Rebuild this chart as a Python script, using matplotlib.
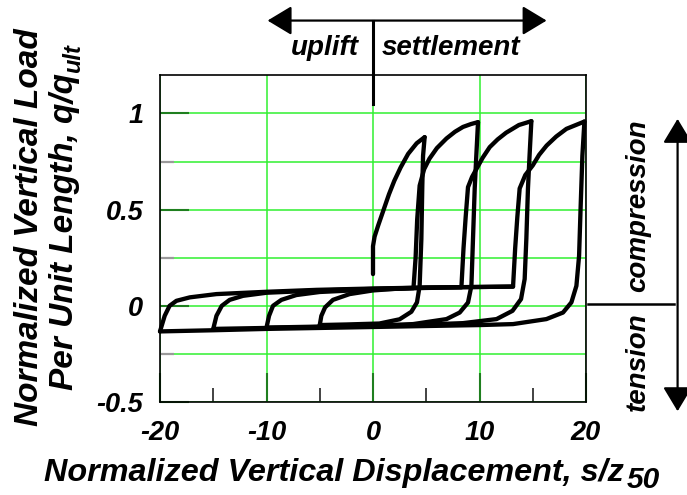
import matplotlib
matplotlib.use("Agg")
import matplotlib.pyplot as plt
from matplotlib.ticker import MultipleLocator, FuncFormatter

plt.rcParams['font.family'] = ['Liberation Sans', 'DejaVu Sans']
plt.rcParams['font.weight'] = 'bold'
plt.rcParams['font.style'] = 'italic'

# ---- load-displacement path (s/z50, q/qult) ----
initial_x = [0, 0, 0.15, 0.5, 1.0, 1.5, 2.0, 2.6, 3.3, 4.1, 4.85]
initial_y = [0.165, 0.31, 0.36, 0.42, 0.50, 0.58, 0.65, 0.72, 0.79, 0.845, 0.877]

unload1_x = [4.85, 4.7, 4.63, 4.54, 4.38, 4.13, 3.6, 2.5, 0.6, -2.5, -5.0]
unload1_y = [0.877, 0.78, 0.625, 0.347, 0.104, 0.018, -0.031, -0.07, -0.092, -0.097, -0.10]

reload1_x = [-5.0, -4.85, -4.5, -3.76, -2.2, 0.0, 2.0, 3.8, 4.0, 4.15, 4.38, 4.8, 5.3, 6.0, 6.9, 7.7, 8.45, 9.2, 9.86]
reload1_y = [-0.10, -0.052, -0.008, 0.031, 0.061, 0.08, 0.088, 0.092, 0.25, 0.45, 0.625, 0.71, 0.765, 0.82, 0.87, 0.905, 0.93, 0.945, 0.955]

unload2_x = [9.86, 9.7, 9.55, 9.39, 9.24, 8.92, 8.14, 6.9, 3.76, 0, -5, -10]
unload2_y = [0.955, 0.78, 0.61, 0.35, 0.104, 0.017, -0.035, -0.069, -0.095, -0.103, -0.108, -0.113]

reload2_x = [-10, -9.76, -9.39, -8.6, -7.2, -5, 0, 5, 8.3, 8.5, 8.7, 8.92, 9.3, 9.7, 10.3, 10.96, 11.7, 12.5, 13.7, 14.87]
reload2_y = [-0.113, -0.052, 0.0, 0.031, 0.056, 0.072, 0.085, 0.093, 0.096, 0.3, 0.46, 0.617, 0.67, 0.71, 0.77, 0.825, 0.865, 0.9, 0.94, 0.96]

unload3_x = [14.87, 14.7, 14.55, 14.4, 14.24, 13.9, 13.1, 11.6, 8.45, 5, 0, -5, -10, -15]
unload3_y = [0.96, 0.78, 0.61, 0.35, 0.139, 0.035, -0.026, -0.069, -0.09, -0.097, -0.105, -0.11, -0.115, -0.12]

reload3_x = [-15, -14.7, -14.2, -13.46, -12.2, -10, -5, 0, 5, 10, 13.15, 13.35, 13.55, 13.77, 14.3, 15.0, 15.6, 16.3, 17.2, 18.16, 19.85]
reload3_y = [-0.12, -0.052, 0.0, 0.031, 0.052, 0.068, 0.08, 0.088, 0.095, 0.098, 0.10, 0.3, 0.46, 0.61, 0.68, 0.73, 0.785, 0.833, 0.88, 0.92, 0.958]

unload4_x = [19.85, 19.66, 19.5, 19.35, 19.1, 18.63, 17.84, 16.28, 13.15, 10, 5, 0, -5, -10, -15, -20]
unload4_y = [0.958, 0.78, 0.52, 0.26, 0.104, 0.018, -0.035, -0.069, -0.095, -0.1, -0.105, -0.11, -0.115, -0.12, -0.127, -0.133]

reload4_x = [-20, -19.56, -19.1, -18.46, -17.2, -14.7, -10, -5.3, 0, 5, 10, 13.15]
reload4_y = [-0.133, -0.052, 0.0, 0.026, 0.044, 0.061, 0.073, 0.083, 0.09, 0.095, 0.098, 0.10]

segments = [
    (initial_x, initial_y),
    (unload1_x, unload1_y), (reload1_x, reload1_y),
    (unload2_x, unload2_y), (reload2_x, reload2_y),
    (unload3_x, unload3_y), (reload3_x, reload3_y),
    (unload4_x, unload4_y), (reload4_x, reload4_y),
]

x_ticks = [-20, -10, 0, 10, 20]
y_ticks = [-0.5, 0, 0.5, 1]

fig = plt.figure(figsize=(6.87, 4.95), dpi=100)
ax = fig.add_axes([160 / 687, 1 - 402 / 495, 426 / 687, 327 / 495])

for sx, sy in segments:
    ax.plot(sx, sy, color='black', lw=3.1, solid_joinstyle='round',
            solid_capstyle='round', zorder=4, clip_on=False)

ax.set_xlim(-20, 20)
ax.set_ylim(-0.5, 1.2)
ax.xaxis.set_major_locator(MultipleLocator(10))
ax.xaxis.set_minor_locator(MultipleLocator(5))
ax.yaxis.set_major_locator(MultipleLocator(0.5))
ax.yaxis.set_minor_locator(MultipleLocator(0.25))
ax.set_xticks(x_ticks)
ax.set_yticks(y_ticks)
fmt = FuncFormatter(lambda v, p: f"{v:g}")
ax.xaxis.set_major_formatter(fmt)
ax.yaxis.set_major_formatter(fmt)

grid_green = '#30f030'
ax.xaxis.grid(True, which='major', color=grid_green, lw=1.1, zorder=1)
ax.yaxis.grid(True, which='both', color=grid_green, lw=1.1, zorder=1)
ax.set_axisbelow(True)

ax.tick_params(axis='both', which='major', direction='in', length=21, width=1.5,
               color='#1f7f1f', labelsize=19.5)
ax.tick_params(axis='x', which='major', pad=13)
ax.tick_params(axis='y', which='major', pad=12)
ax.tick_params(axis='x', which='minor', direction='in', length=10, width=1.2, color='#222222')
ax.tick_params(axis='y', which='minor', direction='in', length=10, width=1.6, color='#9a9a9a')
for s in ax.spines.values():
    s.set_color('black')
    s.set_linewidth(1.2)

# axis titles
xl = fig.text(44 / 687, 1 - 481 / 495, "Normalized Vertical Displacement, s/z",
              fontsize=23.3, ha='left', va='baseline')
fig.add_artist(plt.Annotation("50", xy=(1, 0), xycoords=xl, xytext=(2, -4),
                              textcoords='offset points', fontsize=21.5,
                              ha='left', va='bottom'))

fig.text(30 / 687, 1 - 227 / 495, "Normalized Vertical Load", rotation=90,
         fontsize=24, ha='center', va='center')
yl2 = fig.text(65 / 687, 1 - 390 / 495, "Per Unit Length, q/q", rotation=90,
               fontsize=24, ha='center', va='bottom')
fig.add_artist(plt.Annotation("ult", xy=(1, 1), xycoords=yl2, xytext=(3, 0),
                              textcoords='offset points', fontsize=17, rotation=90,
                              ha='right', va='bottom'))

# uplift / settlement indicator
arrow_kw = dict(arrowstyle='<|-|>,head_length=0.83,head_width=0.5', mutation_scale=18,
                color='black', lw=1.6, shrinkA=0, shrinkB=0)
ax.annotate('', xy=(16.3, 1.483), xytext=(-9.9, 1.483), arrowprops=arrow_kw,
            annotation_clip=False)
ax.plot([0, 0], [1.05, 1.483], color='black', lw=2.2, clip_on=False, zorder=5)
ax.text(-1.3, 1.302, "uplift", fontsize=20, ha='right', va='baseline')
ax.text(0.8, 1.302, "settlement", fontsize=20, ha='left', va='baseline')

# tension / compression indicator
ax.annotate('', xy=(28.6, 0.972), xytext=(28.6, -0.548), arrowprops=arrow_kw,
            annotation_clip=False)
ax.plot([20.15, 28.3], [0.012, 0.012], color='black', lw=1.8, clip_on=False)
ax.text(24.9, 0.07, "compression", rotation=90, fontsize=20, ha='center', va='bottom')
ax.text(24.9, -0.033, "tension", rotation=90, fontsize=20, ha='center', va='top')

fig.savefig("out.png", dpi=100)
